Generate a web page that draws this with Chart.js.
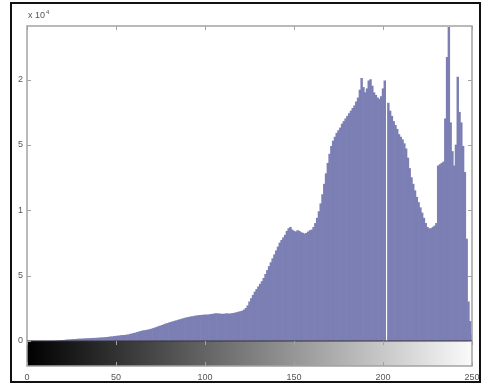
<!DOCTYPE html>
<html>
<head>
<meta charset="utf-8">
<script src="https://cdn.jsdelivr.net/npm/chart.js@4.4.0/dist/chart.umd.min.js"></script>
<style>
  html, body { margin: 0; padding: 0; background: #fff; }
  canvas { display: block; }
</style>
</head>
<body>
<canvas id="hist" width="482" height="385"></canvas>
<script>
// intensity bins 0..255
const bins = Array.from({ length: 256 }, (_, i) => i);

// pixel counts per bin
const counts = [
  0, 0, 0, 0, 0, 0, 0, 0, 0, 0, 0, 0, 0, 0, 0, 0,
  10, 20, 30, 40, 50, 60, 80, 90, 100, 110,
  120, 130, 140, 150, 160, 160, 170, 180, 190, 190,
  200, 210, 210, 220, 230, 240, 250, 260, 270, 280,
  300, 320, 330, 350, 370, 380, 400, 420, 430, 440,
  460, 480, 520, 550, 590, 620, 660, 700, 740, 780,
  800, 820, 850, 880, 920, 960, 1010, 1060, 1110, 1160,
  1200, 1260, 1310, 1350, 1400, 1440, 1480, 1520, 1560, 1600,
  1640, 1680, 1720, 1760, 1790, 1820, 1850, 1870, 1900, 1920,
  1940, 1960, 1970, 1980, 2000, 1990, 2010, 2030, 2050, 2070,
  2100, 2090, 2080, 2060, 2050, 2070, 2090, 2080, 2070, 2100,
  2120, 2150, 2180, 2220, 2260, 2300, 2380, 2500, 2700, 3000,
  3250, 3500, 3750, 3950, 4150, 4350, 4550, 4800, 5100, 5400,
  5700, 6000, 6300, 6600, 6900, 7200, 7500, 7700, 7900, 8100,
  8400, 8600, 8700, 8500, 8400, 8350, 8450, 8400, 8300, 8250,
  8200, 8250, 8350, 8450, 8500, 8700, 9000, 9400, 9900, 10500,
  11200, 12000, 12800, 13600, 14300, 14900, 15300, 15600, 15900, 16100,
  16300, 16600, 16800, 17000, 17200, 17400, 17600, 17800, 18000, 18300,
  18600, 19200, 20100, 19400, 19000, 19300, 19900, 20000, 19500, 19000,
  18800, 18600, 18500, 18700, 19300, 19900, 0, 18200, 17600, 17200,
  16800, 16500, 16200, 15800, 15600, 15400, 15100, 14700, 14000, 13200,
  12500, 12000, 11500, 11000, 10600, 10200, 9800, 9400, 9000, 8700,
  8600, 8600, 8700, 8800, 9000, 13400, 13500, 13600, 13700, 17000,
  21700, 24000, 16700, 14500, 13400, 15000, 20200, 17500, 16700, 14900,
  12900, 7800, 3000, 1500, 500, 200, 100, 0, 0, 0
];

const xTicks = [0, 50, 100, 150, 200, 250];
const yTicks = [0, 5000, 10000, 15000, 20000];
// the picture is cut on the left, so only the last digit of 0.5 / 1.5 shows
const yTickLabels = ['0', '5', '1', '5', '2'];

const axisGray = '#a2a2a2';
const fontFam = "'Liberation Sans', Arial, sans-serif";

// colorbar, box, inner ticks, exponent label and figure frame
const decor = {
  id: 'decor',
  afterDraw(chart) {
    const ctx = chart.ctx;
    const a = chart.chartArea;
    const xs = chart.scales.x, ys = chart.scales.y;
    const cbTop = a.bottom, cbBot = a.bottom + 25;

    ctx.save();
    // gray ramp under the axis
    const g = ctx.createLinearGradient(xs.getPixelForValue(0), 0, xs.getPixelForValue(255), 0);
    g.addColorStop(0, '#000');
    g.addColorStop(1, '#fff');
    ctx.fillStyle = g;
    ctx.fillRect(a.left, cbTop, a.right - a.left, cbBot - cbTop);

    ctx.strokeStyle = axisGray;
    ctx.lineWidth = 1.5;
    ctx.strokeRect(a.left, a.top, a.right - a.left, cbBot - a.top);
    ctx.beginPath();
    ctx.moveTo(a.left, cbTop);
    ctx.lineTo(a.right, cbTop);
    ctx.strokeStyle = '#333';
    ctx.lineWidth = 1;
    ctx.stroke();

    // inner ticks
    ctx.strokeStyle = axisGray;
    ctx.lineWidth = 1;
    ctx.beginPath();
    yTicks.forEach(v => {
      const y = Math.round(ys.getPixelForValue(v)) + 0.5;
      ctx.moveTo(a.left, y); ctx.lineTo(a.left + 4, y);
      ctx.moveTo(a.right, y); ctx.lineTo(a.right - 4, y);
    });
    xTicks.forEach(v => {
      const x = Math.round(xs.getPixelForValue(v)) + 0.5;
      ctx.moveTo(x, a.top); ctx.lineTo(x, a.top + 4);
      ctx.moveTo(x, cbTop); ctx.lineTo(x, cbTop + 4);
      ctx.moveTo(x, cbBot); ctx.lineTo(x, cbBot - 4);
    });
    ctx.stroke();

    // x 10^4
    ctx.fillStyle = '#555';
    ctx.textBaseline = 'alphabetic';
    ctx.font = '9px ' + fontFam;
    ctx.fillText('x 10', a.left + 1, a.top - 8);
    const w = ctx.measureText('x 10').width;
    ctx.font = '6px ' + fontFam;
    ctx.fillText('4', a.left + 1 + w + 1, a.top - 12);

    // figure frame
    ctx.strokeStyle = '#111';
    ctx.lineWidth = 2;
    ctx.strokeRect(11, 3, 469, 379);
    ctx.restore();
  }
};

new Chart(document.getElementById('hist'), {
  type: 'bar',
  data: {
    datasets: [{
      data: bins.map((b, i) => ({ x: b, y: counts[i] })),
      backgroundColor: '#7c7fb4',
      borderWidth: 0,
      barPercentage: 1,
      categoryPercentage: 1
    }]
  },
  options: {
    responsive: false,
    animation: false,
    layout: { padding: { top: 26, right: 10, left: 0, bottom: 0 } },
    plugins: { legend: { display: false }, tooltip: { enabled: false } },
    scales: {
      x: {
        type: 'linear',
        min: 0,
        max: 250,
        offset: false,
        grid: { display: false, drawTicks: true, tickLength: 30, offset: false },
        border: { display: false },
        afterBuildTicks: s => { s.ticks = xTicks.map(v => ({ value: v })); },
        afterFit: s => { s.height = 44; },
        ticks: {
          padding: 1,
          maxRotation: 0,
          autoSkip: false,
          color: '#555',
          font: { size: 9, family: fontFam }
        }
      },
      y: {
        min: 0,
        max: 24100,
        grid: { display: false, drawTicks: false },
        border: { display: false },
        afterBuildTicks: s => { s.ticks = yTicks.map(v => ({ value: v })); },
        afterFit: s => { s.width = 27; },
        ticks: {
          padding: 4,
          color: '#555',
          font: { size: 9, family: fontFam },
          callback: v => yTickLabels[yTicks.indexOf(v)]
        }
      }
    }
  },
  plugins: [decor]
});
</script>
</body>
</html>
